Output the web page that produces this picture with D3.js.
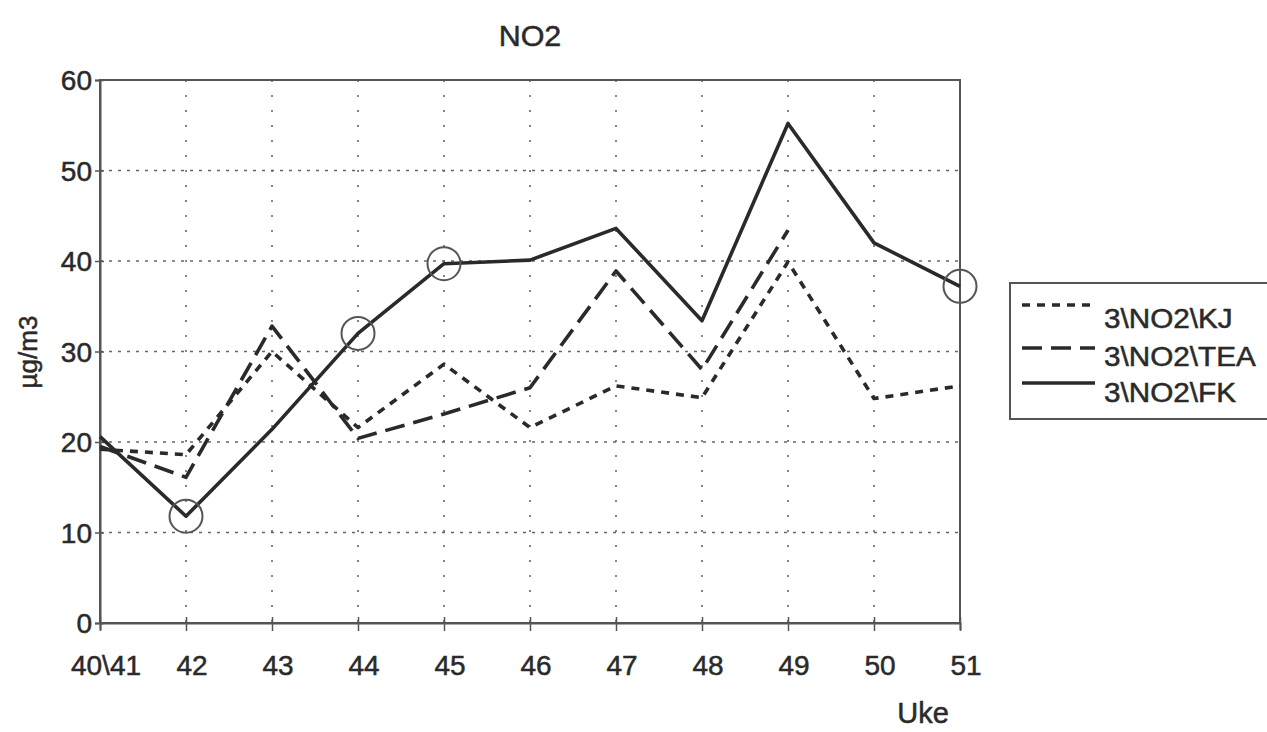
<!DOCTYPE html>
<html><head><meta charset="utf-8">
<script src="https://cdn.jsdelivr.net/npm/d3@7/dist/d3.min.js"></script>
<style>
html,body{margin:0;padding:0;background:#fff;}
text{font-family:"Liberation Sans",Arial,Helvetica,sans-serif;fill:#2a2a2a;stroke:#2a2a2a;stroke-width:0.5px;}
</style></head>
<body>
<svg id="chart" width="1267" height="732"></svg>
<script>
const categories = ["40\\41","42","43","44","45","46","47","48","49","50","51"];
const kj  = [19.2, 18.6, 30.0, 21.6, 28.6, 21.6, 26.2, 24.9, 39.9, 24.8, 26.2];
const tea = [19.5, 16.1, 32.8, 20.4, 23.1, 26.0, 38.9, 28.0, 43.4, null, null];
const fk  = [20.6, 11.8, 21.4, 32.0, 39.7, 40.1, 43.6, 33.4, 55.2, 42.0, 37.2];
const circled = ["42","44","45","51"];
const yTicks = [0,10,20,30,40,50,60];
const seriesNames = ["3\\NO2\\KJ","3\\NO2\\TEA","3\\NO2\\FK"];

const svg = d3.select("#chart");
const X0 = 100, X1 = 960, Y0 = 623, Y1 = 80;
const x = d3.scalePoint().domain(categories).range([X0, X1]);
const y = d3.scaleLinear().domain([0, 60]).range([Y0, Y1]);

function stext(g, tx, ty, str, size, anchor, sx){
  return g.append("text")
    .attr("transform", `translate(${tx},${ty}) scale(${sx || 1},1)`)
    .attr("text-anchor", anchor || "start")
    .style("font-size", size + "px")
    .text(str);
}

// grid
const grid = svg.append("g");
grid.selectAll("line.h").data(yTicks.filter(t => t > 0 && t < 60)).join("line")
  .attr("x1", X0).attr("x2", X1).attr("y1", d => y(d)).attr("y2", d => y(d))
  .attr("stroke", "#666").attr("stroke-width", 1.6).attr("stroke-dasharray", "3,6");
grid.selectAll("line.v").data(categories.slice(1, -1)).join("line")
  .attr("x1", d => x(d)).attr("x2", d => x(d)).attr("y1", Y1).attr("y2", Y0)
  .attr("stroke", "#666").attr("stroke-width", 1.6).attr("stroke-dasharray", "2,13");

// frame
svg.append("rect").attr("x", X0).attr("y", Y1).attr("width", X1 - X0).attr("height", Y0 - Y1)
  .attr("fill", "none").attr("stroke", "#555").attr("stroke-width", 2);

// axes
const yAxis = svg.append("g").attr("transform", `translate(${X0},0)`)
  .call(d3.axisLeft(y).tickValues(yTicks).tickSize(5).tickFormat(""));
yAxis.select(".domain").attr("stroke", "#555").attr("stroke-width", 2);
yAxis.selectAll(".tick line").attr("stroke", "#555").attr("stroke-width", 1.5).attr("x2", -5).attr("x1", 4);
const xAxis = svg.append("g").attr("transform", `translate(0,${Y0})`)
  .call(d3.axisBottom(x).tickSize(7).tickFormat(""));
xAxis.select(".domain").attr("stroke", "#555").attr("stroke-width", 2);
xAxis.selectAll(".tick line").attr("stroke", "#555").attr("stroke-width", 1.5).attr("y1", -6).attr("y2", 8);

const labels = svg.append("g");
yTicks.forEach(t => stext(labels, 92, y(t) + 10, String(t), 28, "end"));
categories.forEach(c => stext(labels, x(c) + 6, 675, c, 28, "middle"));
stext(labels, 923, 723, "Uke", 29, "middle");
stext(labels, 530, 46, "NO2", 29, "middle", 1.05);
labels.append("text")
  .attr("transform", `translate(37,352) rotate(-90)`)
  .attr("text-anchor", "middle").style("font-size", "26px").text("µg/m3");

// series
const styles = [
  {data: kj,  dash: "8,7"},
  {data: tea, dash: "20,9"},
  {data: fk,  dash: null}
];
const line = d3.line().defined(d => d.v !== null).x(d => x(d.c)).y(d => y(d.v));
styles.forEach(s => {
  const pts = categories.map((c, i) => ({c, v: s.data[i]}));
  svg.append("path").datum(pts).attr("d", line)
    .attr("fill", "none").attr("stroke", "#2a2a2a").attr("stroke-width", 3.6)
    .attr("stroke-linejoin", "round")
    .attr("stroke-dasharray", s.dash);
});

// circles on FK
svg.selectAll("circle.mk").data(circled).join("circle")
  .attr("cx", d => x(d)).attr("cy", d => y(fk[categories.indexOf(d)]))
  .attr("r", 16.5).attr("fill", "none").attr("stroke", "#555").attr("stroke-width", 2);

// legend
const lg = svg.append("g");
lg.append("rect").attr("x", 1010).attr("y", 283).attr("width", 270).attr("height", 136)
  .attr("fill", "#fff").attr("stroke", "#555").attr("stroke-width", 2);
const rowLine = [305, 348, 383], rowText = [328, 366, 402];
seriesNames.forEach((n, i) => {
  lg.append("line").attr("x1", 1022).attr("x2", 1095).attr("y1", rowLine[i]).attr("y2", rowLine[i])
    .attr("stroke", "#2a2a2a").attr("stroke-width", 3.6).attr("stroke-dasharray", styles[i].dash);
  stext(lg, 1104, rowText[i], n, 27, "start", 1.1);
});
</script>
</body></html>
